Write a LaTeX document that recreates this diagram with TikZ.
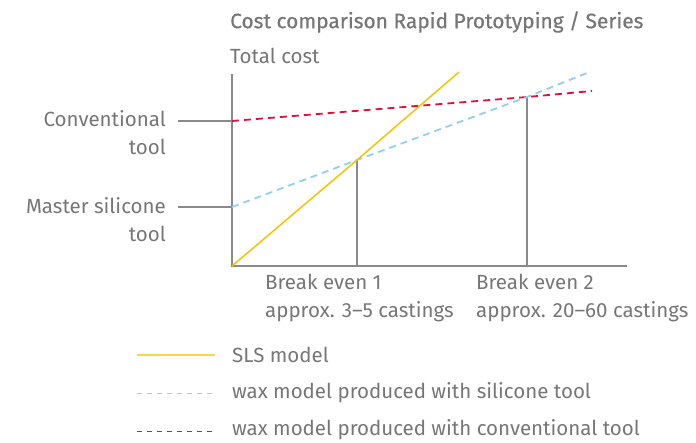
\documentclass[tikz,border=0pt]{standalone}
\usepackage{fontspec}
\setmainfont{Fira Sans}
\newfontfamily\titlefont[FakeBold=0.6]{Fira Sans}
\definecolor{txt}{HTML}{767676}
\definecolor{axisc}{HTML}{8A8A8A}
\definecolor{sls}{HTML}{F5C400}
\definecolor{slsleg}{HTML}{F7D54C}
\definecolor{sil}{HTML}{90D0F2}
\definecolor{conv}{HTML}{E2103C}
\tikzset{
  lbl/.style={text=txt, font=\fontsize{20.5}{23}\selectfont, inner sep=0pt},
  ttl/.style={text=txt, font=\titlefont\fontsize{20.9}{23}\selectfont, inner sep=0pt},
  axisline/.style={draw=axisc, line width=1.4pt},
  slsline/.style={draw=sls, line width=1.5pt},
  silline/.style={draw=sil, line width=1.8pt, dash pattern=on 7pt off 5pt},
  convline/.style={draw=conv, line width=1.8pt, dash pattern=on 7pt off 5pt},
  legsls/.style={draw=slsleg, line width=1.8pt},
  legsil/.style={draw=sil, line width=1pt, dash pattern=on 5pt off 5pt},
  legconv/.style={draw=conv, line width=1pt, dash pattern=on 5pt off 5pt},
}
\begin{document}
\begin{tikzpicture}[x=1pt,y=-1pt]
\useasboundingbox (0,0) rectangle (696,443);
% title
\node[ttl, anchor=west] (title) at (230,22) {Cost comparison Rapid Prototyping / Series};
\node[lbl, anchor=west] (ylabel) at (230,56) {Total cost};
% axes
\coordinate (ytop) at (232,74);
\coordinate (origin) at (232,266);
\coordinate (xend) at (627,266);
\draw[axisline] (ytop) -- (origin) -- (xend);
% y ticks
\coordinate (convy) at (232,121);
\coordinate (sily) at (232,207);
\coordinate (convtick) at (178,121);
\coordinate (siltick) at (178,207);
\draw[axisline] (convtick) -- (convy);
\draw[axisline] (siltick) -- (sily);
\node[lbl, anchor=east, align=right] (convlbl) at (166,133) {Conventional\\[5pt]tool};
\node[lbl, anchor=east, align=right] (sillbl) at (166,220) {Master silicone\\[5pt]tool};
% break-even points
\coordinate (be1) at (357,160);
\coordinate (be2) at (527,97);
\coordinate (be1b) at (357,266);
\coordinate (be2b) at (527,266);
\draw[axisline] (be1) -- (be1b);
\draw[axisline] (be2) -- (be2b);
% curves
\coordinate (slsend) at (459,72);
\coordinate (silend) at (587,73);
\coordinate (convend) at (592,91);
\draw[convline] (convy) -- (be2) -- (convend);
\draw[silline] (sily) -- (be1) -- (be2) -- (silend);
\draw[slsline] (origin) -- (be1) -- (slsend);
% break even labels
\node[lbl, anchor=north west, align=left] (be1lbl) at (265,274) {Break even 1\\[5pt]approx. 3–5 castings};
\node[lbl, anchor=north west, align=left] (be2lbl) at (476,274) {Break even 2\\[5pt]approx. 20–60 castings};
% legend
\coordinate (l1a) at (137,355); \coordinate (l1b) at (215,355);
\coordinate (l2a) at (137,394); \coordinate (l2b) at (215,394);
\coordinate (l3a) at (137,431); \coordinate (l3b) at (215,431);
\draw[legsls] (l1a) -- (l1b);
\draw[legsil] (l2a) -- (l2b);
\draw[legconv] (l3a) -- (l3b);
\node[lbl, anchor=west] (leg1) at (232,355) {SLS model};
\node[lbl, anchor=west] (leg2) at (232,393) {wax model produced with silicone tool};
\node[lbl, anchor=west] (leg3) at (232,430) {wax model produced with conventional tool};
\end{tikzpicture}
\end{document}
